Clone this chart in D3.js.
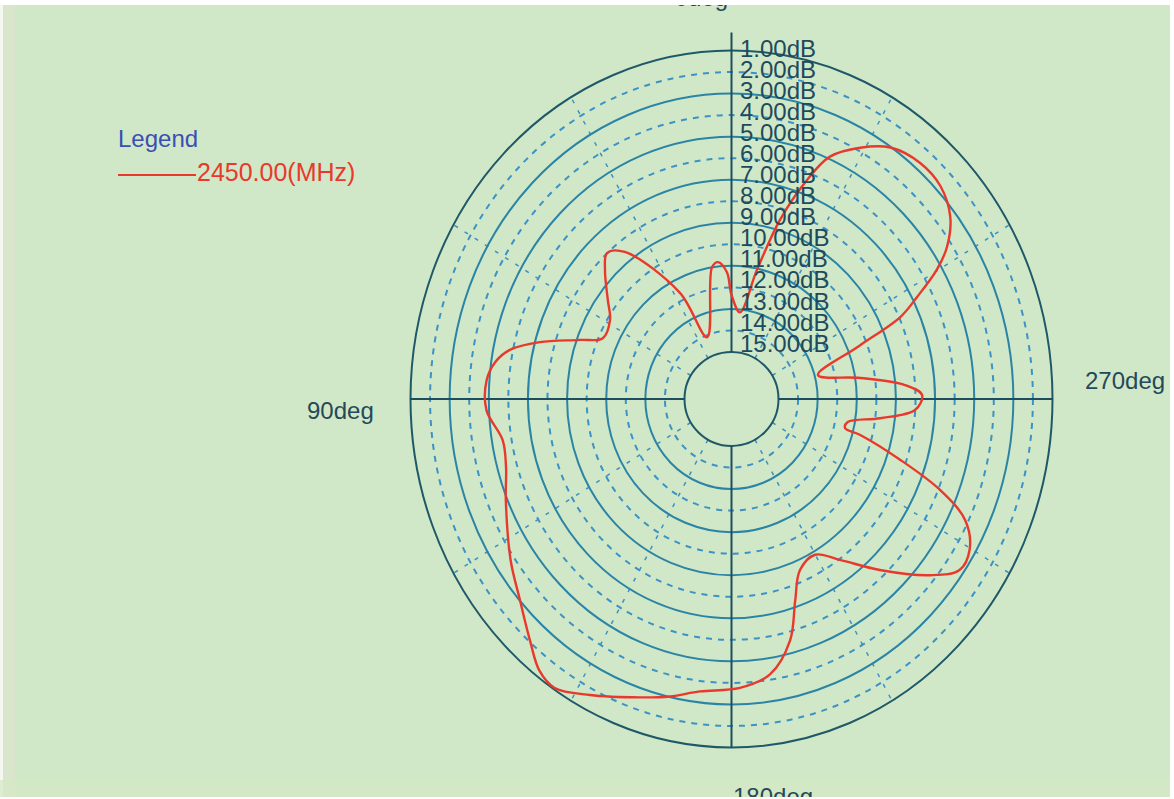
<!DOCTYPE html>
<html>
<head>
<meta charset="utf-8">
<script src="https://cdn.jsdelivr.net/npm/d3@7"></script>
<style>
  html, body { margin: 0; padding: 0; background: #d0e8c7; overflow: hidden; }
  svg { display: block; font-family: "Liberation Sans", Arial, sans-serif; }
</style>
</head>
<body>
<svg id="chart" width="1174" height="799"></svg>
<script>
// ---- data ----
const angles = [0.0, 2.2, 6.0, 8.9, 22.1, 27.2, 37.9, 42.5, 46.5, 53.2, 58.6, 66.1, 70.0, 74.6, 78.4, 81.8, 85.9, 92.4,
  99.5, 105.6, 112.5, 123.9, 131.2, 137.9, 142.5, 146.4, 152.6, 161.6, 167.4, 173.3, 181.8, 188.6, 194.7, 198.8,
  203.2, 209.9, 215.9, 223.1, 230.6, 235.3, 239.7, 244.4, 248.0, 251.5, 255.3, 256.4, 259.4, 263.1, 266.8, 271.1,
  274.3, 278.7, 284.8, 291.3, 294.3, 297.0, 300.2, 303.1, 307.5, 313.2, 319.1, 325.6, 331.0, 336.3, 339.6, 343.8,
  348.2, 354.2];
const levels = [12.35, 11.29, 10.79, 10.98, 14.09, 11.64, 8.53, 7.99, 8.49, 9.51, 10.13, 10.21, 9.16, 7.24, 5.84, 5.20, 4.86, 4.87,
  5.55, 5.44, 4.92, 3.80, 3.03, 2.05, 1.28, 1.07, 1.70, 2.58, 3.03, 3.51, 3.76, 4.25, 5.60, 7.30,
  8.53, 8.84, 7.96, 6.31, 4.29, 3.23, 3.31, 4.16, 5.91, 8.34, 10.60, 11.43, 11.36, 9.75, 8.01, 7.66,
  8.52, 10.73, 12.83, 10.40, 7.94, 6.77, 5.27, 4.26, 3.31, 2.75, 2.68, 3.03, 3.84, 4.89, 6.33, 8.52,
  11.07, 13.14];
const ringValues = [1, 2, 3, 4, 5, 6, 7, 8, 9, 10, 11, 12, 13, 14, 15];
const ringLabels = ["1.00dB", "2.00dB", "3.00dB", "4.00dB", "5.00dB", "6.00dB", "7.00dB", "8.00dB", "9.00dB",
  "10.00dB", "11.00dB", "12.00dB", "13.00dB", "14.00dB", "15.00dB"];
const spokeAngles = [30, 60, 120, 150, 210, 240, 300, 330];
const axisAngles = [0, 90, 180, 270];
const axisLabels = ["0deg", "90deg", "180deg", "270deg"];
const legendTitle = "Legend";
const seriesName = "2450.00(MHz)";

// ---- layout ----
const svg = d3.select("#chart");
const W = 1174, H = 799;
const cx = 731.5, cy = 399;
const rX = d3.scaleLinear().domain([15, 1]).range([47, 321]);
const rY = d3.scaleLinear().domain([15, 1]).range([47, 348.5]);
const ang = d3.scaleLinear().domain([0, 360]).range([0, 2 * Math.PI]);
const px = (a, v) => cx - rX(v) * Math.sin(ang(a));
const py = (a, v) => cy - rY(v) * Math.cos(ang(a));

const bg = "#d0e8c7";
svg.append("rect").attr("width", W).attr("height", H).attr("fill", bg);
// scanned-edge artefacts
svg.append("rect").attr("x", 0).attr("y", 0).attr("width", 3).attr("height", H).attr("fill", "#f4f8f0");
svg.append("rect").attr("x", 3).attr("y", 0).attr("width", 12).attr("height", H).attr("fill", "#d9e6cc");
svg.append("rect").attr("x", 0).attr("y", 780).attr("width", W).attr("height", 17).attr("fill", "#d4e8c4").attr("opacity", 0.7);

// spokes (dashed radials)
svg.append("g").selectAll("line").data(spokeAngles).join("line")
  .attr("x1", d => px(d, 15)).attr("y1", d => py(d, 15))
  .attr("x2", d => px(d, 1)).attr("y2", d => py(d, 1))
  .attr("stroke", "#3d8fc4").attr("stroke-width", 1.5).attr("stroke-dasharray", "4,8");

// rings
svg.append("g").selectAll("ellipse").data(ringValues).join("ellipse")
  .attr("cx", cx).attr("cy", cy)
  .attr("rx", d => rX(d)).attr("ry", d => rY(d))
  .attr("fill", "none")
  .attr("stroke", d => (d === 1 || d === 15) ? "#1f5868" : (d % 2 === 1 ? "#2b84a6" : "#3c92c6"))
  .attr("stroke-width", d => (d % 2 === 1) ? 2 : 2)
  .attr("stroke-dasharray", d => (d % 2 === 0) ? "6,6" : null);

// axes (from inner ring outward)
const axisG = svg.append("g").attr("stroke", "#1d4d5e").attr("stroke-width", 2);
axisAngles.forEach(a => {
  const ext = a === 0 ? 0.6 : 0;
  axisG.append("line")
    .attr("x1", px(a, 15)).attr("y1", py(a, 15))
    .attr("x2", px(a, 1 - ext)).attr("y2", py(a, 1 - ext) - (a === 0 ? 5 : 0));
});

// pattern
const pts = angles.map((a, i) => [px(a, levels[i]), py(a, levels[i])]);
svg.append("path")
  .attr("d", d3.line().curve(d3.curveCatmullRomClosed.alpha(0.5))(pts))
  .attr("fill", "none").attr("stroke", "#e8392c").attr("stroke-width", 2.4);

// ring labels along the vertical axis
svg.append("g").selectAll("text").data(ringValues).join("text")
  .attr("x", 740)
  .attr("y", (d, i) => py(0, d) + 6 - i * 0.45)
  .attr("font-size", 24)
  .attr("fill", "#1e4a5c")
  .text((d, i) => ringLabels[i]);

// angle labels
const degPos = [
  { x: 728, y: 6, anchor: "end" },
  { x: 307, y: 419, anchor: "start" },
  { x: 733, y: 805, anchor: "start" },
  { x: 1085, y: 389, anchor: "start" }
];
svg.append("g").selectAll("text").data(axisLabels).join("text")
  .attr("x", (d, i) => degPos[i].x).attr("y", (d, i) => degPos[i].y)
  .attr("text-anchor", (d, i) => degPos[i].anchor)
  .attr("font-size", 24).attr("fill", "#24495a")
  .text(d => d);

// legend
svg.append("text").attr("x", 118).attr("y", 147).attr("font-size", 24).attr("fill", "#3a4fb4").text(legendTitle);
svg.append("line").attr("x1", 118).attr("x2", 196).attr("y1", 175).attr("y2", 175)
  .attr("stroke", "#e8392c").attr("stroke-width", 2);
svg.append("text").attr("x", 197).attr("y", 181).attr("font-size", 25).attr("fill", "#e8392c").text(seriesName);

// white scan borders
svg.append("rect").attr("x", 0).attr("y", 0).attr("width", W).attr("height", 5).attr("fill", "#ffffff");
svg.append("rect").attr("x", 0).attr("y", 797).attr("width", W).attr("height", 2).attr("fill", "#ffffff");
svg.append("rect").attr("x", 1170).attr("y", 0).attr("width", 4).attr("height", H).attr("fill", "#ffffff");
</script>
</body>
</html>
